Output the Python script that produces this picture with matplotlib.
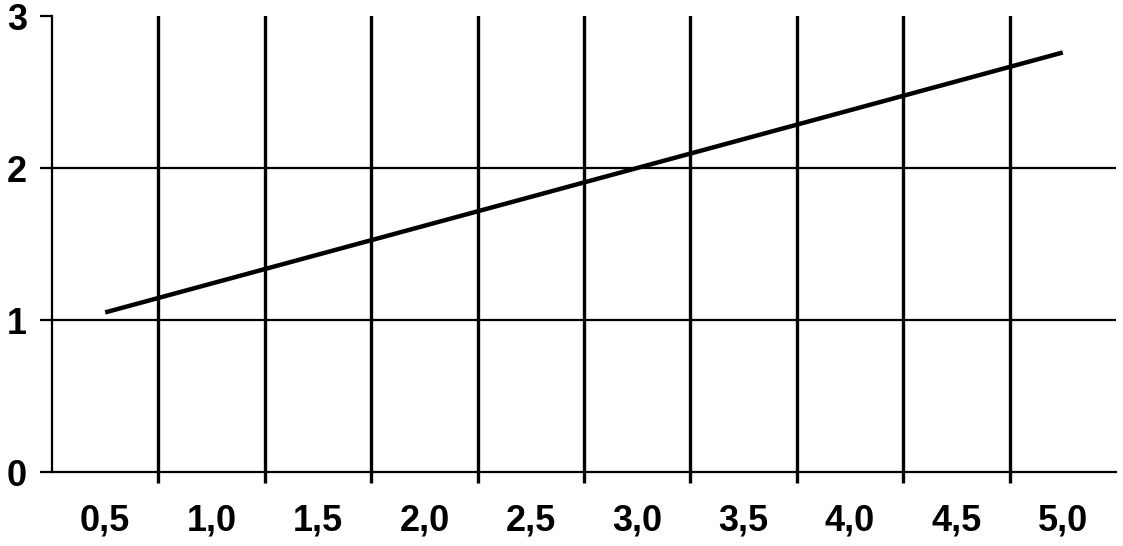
import matplotlib
matplotlib.use("Agg")
import matplotlib.pyplot as plt
import numpy as np

categories = ["0,5", "1,0", "1,5", "2,0", "2,5", "3,0", "3,5", "4,0", "4,5", "5,0"]
values = [1.05, 1.24, 1.43, 1.62, 1.81, 2.00, 2.19, 2.38, 2.57, 2.76]
yticks = [0, 1, 2, 3]

plt.rcParams['font.family'] = ['Liberation Sans', 'DejaVu Sans']

fig = plt.figure(figsize=(11.23, 5.46), dpi=100)
ax = fig.add_axes([52/1123, 1 - 472/546, (1116-52)/1123, (472-16)/546])

pos = np.arange(len(categories))
ax.plot(pos, values, color='black', lw=3.2, solid_capstyle='butt')

ax.set_xlim(-0.5, len(categories) - 0.5)
ax.set_ylim(0, 3)

ax.set_xticks(pos)
ax.set_xticklabels(categories, fontsize=26, fontweight='bold')
ax.set_xticks(pos[:-1] + 0.5, minor=True)
ax.tick_params(axis='x', which='major', length=0, pad=23)
ax.tick_params(axis='x', which='minor', length=8, width=2.4, direction='out', color='black')
ax.xaxis.grid(True, which='minor', color='black', lw=2.4)
ax.xaxis.grid(False, which='major')

ax.set_yticks(yticks)
ax.set_yticklabels([str(t) for t in yticks], fontsize=26, fontweight='bold')
ax.tick_params(axis='y', which='major', length=9, width=1.6, direction='out', pad=9)
ax.yaxis.grid(True, which='major', color='black', lw=1.6)
for gl in ax.get_ygridlines():
    y = gl.get_ydata()[0]
    if y in (0, 3):
        gl.set_visible(False)

for s in ['top', 'right']:
    ax.spines[s].set_visible(False)
ax.spines['left'].set_linewidth(1.6)
ax.spines['bottom'].set_linewidth(1.6)
ax.set_axisbelow(True)

fig.savefig('out.png', dpi=100, facecolor='white')
